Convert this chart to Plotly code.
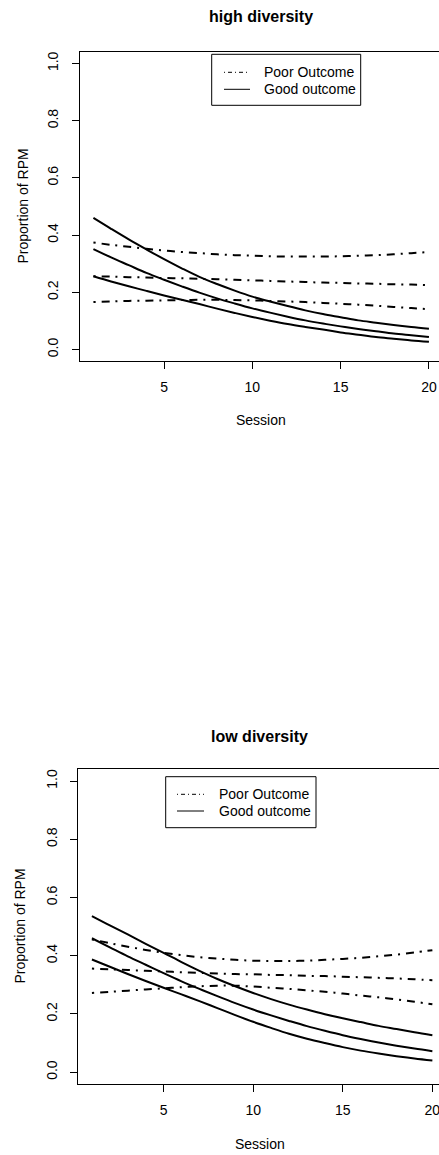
import plotly.graph_objects as go

W, H = 439, 1155

# ---- data -------------------------------------------------------------
sessions = list(range(1, 21))

# high diversity: fitted proportion with lower/upper bands
high_poor_upper = [0.374, 0.366, 0.359, 0.352, 0.346, 0.341, 0.337, 0.333, 0.330, 0.328,
                   0.326, 0.325, 0.325, 0.325, 0.326, 0.328, 0.330, 0.333, 0.337, 0.341]
high_poor_mid = [0.256, 0.255, 0.253, 0.252, 0.250, 0.249, 0.247, 0.246, 0.244, 0.242,
                 0.240, 0.238, 0.236, 0.234, 0.233, 0.231, 0.230, 0.228, 0.227, 0.225]
high_poor_lower = [0.166, 0.168, 0.170, 0.171, 0.172, 0.173, 0.174, 0.174, 0.173, 0.172,
                   0.170, 0.168, 0.166, 0.163, 0.160, 0.157, 0.153, 0.149, 0.145, 0.141]
high_good_upper = [0.460, 0.422, 0.385, 0.350, 0.316, 0.284, 0.254, 0.229, 0.206, 0.185,
                   0.168, 0.152, 0.137, 0.124, 0.113, 0.102, 0.094, 0.086, 0.079, 0.073]
high_good_mid = [0.351, 0.322, 0.295, 0.268, 0.244, 0.221, 0.199, 0.179, 0.161, 0.144,
                 0.129, 0.115, 0.102, 0.091, 0.081, 0.072, 0.064, 0.056, 0.050, 0.044]
high_good_lower = [0.256, 0.238, 0.221, 0.205, 0.189, 0.174, 0.159, 0.143, 0.128, 0.114,
                   0.101, 0.089, 0.079, 0.070, 0.060, 0.052, 0.044, 0.038, 0.032, 0.027]

# low diversity
low_poor_upper = [0.456, 0.443, 0.431, 0.420, 0.410, 0.402, 0.395, 0.390, 0.386, 0.383,
                  0.382, 0.382, 0.383, 0.386, 0.389, 0.393, 0.398, 0.404, 0.411, 0.419]
low_poor_mid = [0.356, 0.353, 0.351, 0.348, 0.346, 0.343, 0.341, 0.339, 0.337, 0.336,
                0.334, 0.333, 0.331, 0.330, 0.328, 0.326, 0.324, 0.322, 0.319, 0.316]
low_poor_lower = [0.272, 0.276, 0.280, 0.284, 0.288, 0.292, 0.295, 0.297, 0.297, 0.294,
                  0.290, 0.286, 0.281, 0.276, 0.270, 0.263, 0.257, 0.250, 0.242, 0.233]
low_good_upper = [0.536, 0.504, 0.473, 0.441, 0.410, 0.378, 0.348, 0.320, 0.295, 0.272,
                  0.251, 0.232, 0.215, 0.199, 0.185, 0.172, 0.159, 0.148, 0.137, 0.127]
low_good_mid = [0.460, 0.429, 0.398, 0.369, 0.340, 0.312, 0.286, 0.261, 0.237, 0.215,
                0.195, 0.176, 0.158, 0.142, 0.127, 0.114, 0.102, 0.091, 0.081, 0.072]
low_good_lower = [0.387, 0.362, 0.337, 0.313, 0.290, 0.267, 0.244, 0.220, 0.196, 0.173,
                  0.152, 0.132, 0.115, 0.100, 0.086, 0.074, 0.064, 0.055, 0.047, 0.040]

x_tick_vals = [5, 10, 15, 20]
y_tick_vals = [0.0, 0.2, 0.4, 0.6, 0.8, 1.0]
y_tick_text = ["0.0", "0.2", "0.4", "0.6", "0.8", "1.0"]

legend_labels = ["Poor Outcome", "Good outcome"]
x_title = "Session"
y_title = "Proportion of RPM"

# ---- styling / layout --------------------------------------------------
FONT = "Liberation Sans, Arial, Helvetica, sans-serif"
INK = "#000000"
POOR_DASH = "2px,6px,8px,6px"
POOR_DASH_THIN = "1px,3px,4px,3px"


def px_x(px):
    return px / W


def px_y(py):
    return 1 - py / H


panels = [
    dict(title="high diversity",
         series_poor=[high_poor_upper, high_poor_mid, high_poor_lower],
         series_good=[high_good_upper, high_good_mid, high_good_lower],
         left=80.0, top=52.0, bottom=361.0, xmax=20.57,
         title_y=17.0, xlab_y=420.0, ylab_x=22.0,
         leg=dict(x0=211.7, x1=360.7, y0=54.3, y1=105.3,
                  rows=[72.3, 89.3], lx0=224.0, lx1=250.0, tx=262.0)),
    dict(title="low diversity",
         series_poor=[low_poor_upper, low_poor_mid, low_poor_lower],
         series_good=[low_good_upper, low_good_mid, low_good_lower],
         left=78.3, top=769.4, bottom=1083.8, xmax=20.37,
         title_y=736.0, xlab_y=1144.0, ylab_x=20.0,
         leg=dict(x0=165.7, x1=316.0, y0=776.7, y1=827.7,
                  rows=[794.3, 811.0], lx0=177.0, lx1=204.0, tx=217.0)),
]

fig = go.Figure()
shapes = []
annotations = []
layout_axes = {}

for i, p in enumerate(panels):
    n = "" if i == 0 else str(i + 1)
    xa, ya = "x" + n, "y" + n

    for ys in p["series_poor"]:
        fig.add_trace(go.Scatter(
            x=sessions, y=ys, mode="lines", xaxis=xa, yaxis=ya,
            line=dict(color=INK, width=2, dash=POOR_DASH, shape="spline"),
            showlegend=False, hoverinfo="skip"))
    for ys in p["series_good"]:
        fig.add_trace(go.Scatter(
            x=sessions, y=ys, mode="lines", xaxis=xa, yaxis=ya,
            line=dict(color=INK, width=2, shape="spline"),
            showlegend=False, hoverinfo="skip"))

    tick_font = dict(family=FONT, size=14, color=INK)
    layout_axes["xaxis" + n] = dict(
        domain=[px_x(p["left"]), 1.0], range=[0.24, p["xmax"]],
        anchor=ya, tickmode="array", tickvals=x_tick_vals,
        ticks="outside", ticklen=7, tickwidth=1, tickcolor=INK,
        showline=True, linecolor=INK, linewidth=1, mirror=True,
        showgrid=False, zeroline=False, tickfont=tick_font,
        ticklabelstandoff=6, ticklabeloverflow="allow")
    layout_axes["yaxis" + n] = dict(
        domain=[px_y(p["bottom"]), px_y(p["top"])], range=[-0.04, 1.04],
        anchor=xa, tickmode="array", tickvals=y_tick_vals, ticktext=y_tick_text,
        ticks="outside", ticklen=7, tickwidth=1, tickcolor=INK,
        showline=True, linecolor=INK, linewidth=1, mirror=False,
        showgrid=False, zeroline=False, tickfont=tick_font, tickangle=-90,
        ticklabelstandoff=8, ticklabeloverflow="allow")

    cx = (p["left"] + W) / 2 + 1
    annotations.append(dict(
        text="<b>%s</b>" % p["title"], xref="paper", yref="paper",
        x=px_x(cx), y=px_y(p["title_y"]), xanchor="center", yanchor="middle",
        showarrow=False, font=dict(family=FONT, size=16, color=INK)))
    annotations.append(dict(
        text=x_title, xref="paper", yref="paper",
        x=px_x(cx), y=px_y(p["xlab_y"]), xanchor="center", yanchor="middle",
        showarrow=False, font=dict(family=FONT, size=14, color=INK)))
    annotations.append(dict(
        text=y_title, xref="paper", yref="paper", textangle=-90,
        x=px_x(p["ylab_x"]), y=px_y((p["top"] + p["bottom"]) / 2),
        xanchor="center", yanchor="middle",
        showarrow=False, font=dict(family=FONT, size=14, color=INK)))

    # legend box drawn by hand
    lg = p["leg"]
    shapes.append(dict(type="rect", xref="paper", yref="paper",
                       x0=px_x(lg["x0"]), x1=px_x(lg["x1"]),
                       y0=px_y(lg["y1"]), y1=px_y(lg["y0"]),
                       line=dict(color=INK, width=1), fillcolor="white", layer="above"))
    for row_y, label, dash in zip(lg["rows"], legend_labels, [POOR_DASH_THIN, "solid"]):
        shapes.append(dict(type="line", xref="paper", yref="paper",
                           x0=px_x(lg["lx0"]), x1=px_x(lg["lx1"]),
                           y0=px_y(row_y), y1=px_y(row_y),
                           line=dict(color=INK, width=1, dash=dash), layer="above"))
        annotations.append(dict(
            text=label, xref="paper", yref="paper",
            x=px_x(lg["tx"]), y=px_y(row_y), xanchor="left", yanchor="middle",
            showarrow=False, font=dict(family=FONT, size=14, color=INK)))

fig.update_layout(
    width=W, height=H,
    margin=dict(l=0, r=0, t=0, b=0),
    paper_bgcolor="white", plot_bgcolor="white",
    showlegend=False,
    shapes=shapes, annotations=annotations,
    **layout_axes)

fig.write_html("out.html", config={"displayModeBar": False})
